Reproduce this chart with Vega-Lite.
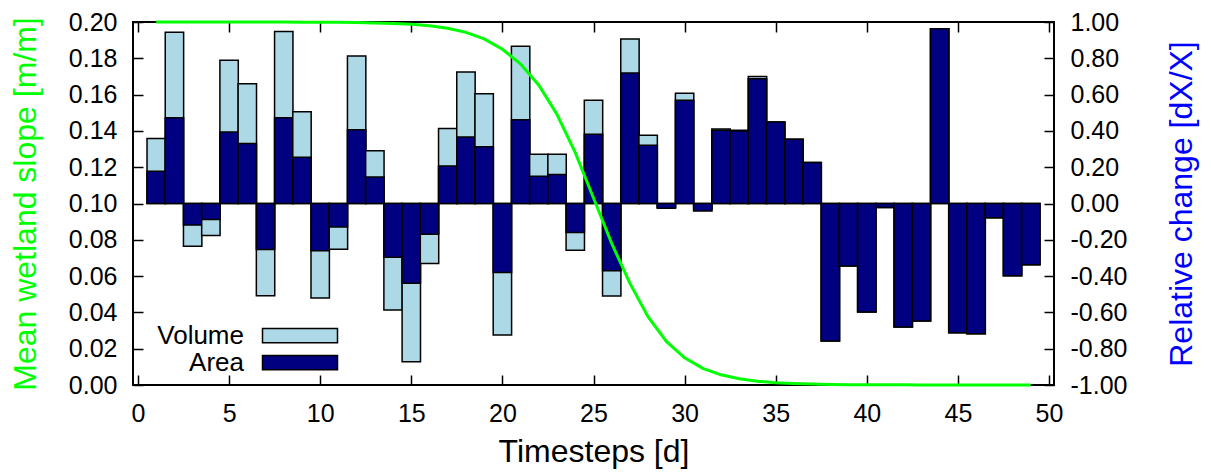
{
  "$schema": "https://vega.github.io/schema/vega-lite/v6.json",
  "width": 921,
  "height": 363,
  "autosize": {"type": "none"},
  "padding": {"left": 133, "top": 22, "right": 157, "bottom": 87},
  "background": "white",
  "config": {
    "view": {"stroke": "black", "strokeWidth": 2},
    "font": "Liberation Sans",
    "axis": {
      "labelFont": "Liberation Sans",
      "titleFont": "Liberation Sans",
      "labelFontSize": 25,
      "titleFontSize": 32,
      "titleFontWeight": "normal",
      "labelColor": "black",
      "tickColor": "black",
      "tickWidth": 1.5,
      "tickSize": -10,
      "domain": false,
      "grid": false,
      "labelOverlap": false
    }
  },
  "datasets": {
    "bars": [
      {"t": 1, "Volume": 0.358, "Area": 0.178},
      {"t": 2, "Volume": 0.944, "Area": 0.473},
      {"t": 3, "Volume": -0.235, "Area": -0.119},
      {"t": 4, "Volume": -0.176, "Area": -0.088},
      {"t": 5, "Volume": 0.789, "Area": 0.394},
      {"t": 6, "Volume": 0.660, "Area": 0.330},
      {"t": 7, "Volume": -0.508, "Area": -0.253},
      {"t": 8, "Volume": 0.948, "Area": 0.473},
      {"t": 9, "Volume": 0.506, "Area": 0.255},
      {"t": 10, "Volume": -0.521, "Area": -0.261},
      {"t": 11, "Volume": -0.252, "Area": -0.129},
      {"t": 12, "Volume": 0.812, "Area": 0.407},
      {"t": 13, "Volume": 0.290, "Area": 0.146},
      {"t": 14, "Volume": -0.587, "Area": -0.296},
      {"t": 15, "Volume": -0.872, "Area": -0.440},
      {"t": 16, "Volume": -0.330, "Area": -0.169},
      {"t": 17, "Volume": 0.413, "Area": 0.207},
      {"t": 18, "Volume": 0.724, "Area": 0.367},
      {"t": 19, "Volume": 0.605, "Area": 0.312},
      {"t": 20, "Volume": -0.725, "Area": -0.380},
      {"t": 21, "Volume": 0.866, "Area": 0.462},
      {"t": 22, "Volume": 0.271, "Area": 0.150},
      {"t": 23, "Volume": 0.271, "Area": 0.160},
      {"t": 24, "Volume": -0.257, "Area": -0.160},
      {"t": 25, "Volume": 0.569, "Area": 0.381},
      {"t": 26, "Volume": -0.510, "Area": -0.371},
      {"t": 27, "Volume": 0.906, "Area": 0.719},
      {"t": 28, "Volume": 0.376, "Area": 0.321},
      {"t": 29, "Volume": -0.020, "Area": -0.026},
      {"t": 30, "Volume": 0.607, "Area": 0.569},
      {"t": 31, "Volume": -0.030, "Area": -0.041},
      {"t": 32, "Volume": 0.410, "Area": 0.403},
      {"t": 33, "Volume": 0.403, "Area": 0.400},
      {"t": 34, "Volume": 0.700, "Area": 0.688},
      {"t": 35, "Volume": 0.449, "Area": 0.449},
      {"t": 36, "Volume": 0.354, "Area": 0.354},
      {"t": 37, "Volume": 0.226, "Area": 0.226},
      {"t": 38, "Volume": -0.758, "Area": -0.758},
      {"t": 39, "Volume": -0.345, "Area": -0.345},
      {"t": 40, "Volume": -0.598, "Area": -0.598},
      {"t": 41, "Volume": -0.022, "Area": -0.022},
      {"t": 42, "Volume": -0.681, "Area": -0.681},
      {"t": 43, "Volume": -0.648, "Area": -0.648},
      {"t": 44, "Volume": 0.963, "Area": 0.963},
      {"t": 45, "Volume": -0.712, "Area": -0.712},
      {"t": 46, "Volume": -0.718, "Area": -0.718},
      {"t": 47, "Volume": -0.079, "Area": -0.079},
      {"t": 48, "Volume": -0.398, "Area": -0.398},
      {"t": 49, "Volume": -0.338, "Area": -0.338}
    ],
    "slope": [
      {"t": 1, "slope": 0.2000}, {"t": 2, "slope": 0.2000}, {"t": 3, "slope": 0.2000},
      {"t": 4, "slope": 0.2000}, {"t": 5, "slope": 0.2000}, {"t": 6, "slope": 0.2000},
      {"t": 7, "slope": 0.2000}, {"t": 8, "slope": 0.2000}, {"t": 9, "slope": 0.1999},
      {"t": 10, "slope": 0.1999}, {"t": 11, "slope": 0.1998}, {"t": 12, "slope": 0.1997},
      {"t": 13, "slope": 0.1995}, {"t": 14, "slope": 0.1992}, {"t": 15, "slope": 0.1987},
      {"t": 16, "slope": 0.1979}, {"t": 17, "slope": 0.1965}, {"t": 18, "slope": 0.1943},
      {"t": 19, "slope": 0.1907}, {"t": 20, "slope": 0.1850}, {"t": 21, "slope": 0.1768},
      {"t": 22, "slope": 0.1652}, {"t": 23, "slope": 0.1490}, {"t": 24, "slope": 0.1280},
      {"t": 25, "slope": 0.1030}, {"t": 26, "slope": 0.0780}, {"t": 27, "slope": 0.0560},
      {"t": 28, "slope": 0.0375}, {"t": 29, "slope": 0.0240}, {"t": 30, "slope": 0.0150},
      {"t": 31, "slope": 0.0092}, {"t": 32, "slope": 0.0056}, {"t": 33, "slope": 0.0034},
      {"t": 34, "slope": 0.0021}, {"t": 35, "slope": 0.0013}, {"t": 36, "slope": 0.0008},
      {"t": 37, "slope": 0.0005}, {"t": 38, "slope": 0.0003}, {"t": 39, "slope": 0.0002},
      {"t": 40, "slope": 0.0001}, {"t": 41, "slope": 0.0001}, {"t": 42, "slope": 0.0001},
      {"t": 43, "slope": 0.0000}, {"t": 44, "slope": 0.0000}, {"t": 45, "slope": 0.0000},
      {"t": 46, "slope": 0.0000}, {"t": 47, "slope": 0.0000}, {"t": 48, "slope": 0.0000},
      {"t": 49, "slope": 0.0000}
    ]
  },
  "layer": [
    {
      "data": {"name": "bars"},
      "transform": [{"fold": ["Volume", "Area"], "as": ["series", "value"]}],
      "mark": {"type": "bar", "width": 18.4, "stroke": "black", "strokeWidth": 1.5},
      "encoding": {
        "x": {
          "field": "t",
          "type": "quantitative",
          "scale": {"domain": [0, 50], "nice": false, "zero": false},
          "axis": {
            "orient": "bottom",
            "values": [0, 5, 10, 15, 20, 25, 30, 35, 40, 45, 50],
            "title": "Timesteps [d]",
            "labelPadding": 26,
            "titlePadding": 10,
            "labelFlush": false
          }
        },
        "y": {
          "field": "value",
          "type": "quantitative",
          "stack": null,
          "scale": {"domain": [-1, 1], "nice": false, "zero": false},
          "axis": {
            "orient": "right",
            "values": [-1, -0.8, -0.6, -0.4, -0.2, 0, 0.2, 0.4, 0.6, 0.8, 1],
            "format": ".2f",
            "labelExpr": "replace(datum.label, '\u2212', '-')",
            "title": "Relative change [dX/X]",
            "titleColor": "#0000ff",
            "titleAngle": 270,
            "titleBaseline": "top",
            "titlePadding": 40,
            "labelPadding": 26
          }
        },
        "y2": {"datum": 0},
        "fill": {
          "field": "series",
          "type": "nominal",
          "scale": {"domain": ["Volume", "Area"], "range": ["#add8e6", "#000080"]},
          "legend": {
            "orient": "none",
            "legendX": 154,
            "legendY": 300.5,
            "title": null,
            "padding": 0,
            "symbolType": "M-5,-0.95H5V0.95H-5Z",
            "symbolSize": 225,
            "symbolStrokeColor": "black",
            "symbolStrokeWidth": 1.5,
            "symbolOpacity": 1,
            "labelFont": "Liberation Sans",
            "labelFontSize": 26,
            "labelColor": "black",
            "labelAlign": "right",
            "labelBaseline": "middle",
            "labelOffset": -69,
            "rowPadding": 1
          }
        }
      }
    },
    {
      "data": {"name": "slope"},
      "mark": {"type": "line", "color": "#00ff00", "strokeWidth": 3},
      "encoding": {
        "x": {
          "field": "t",
          "type": "quantitative",
          "axis": {
            "orient": "top",
            "values": [0, 5, 10, 15, 20, 25, 30, 35, 40, 45, 50],
            "labels": false,
            "title": null
          }
        },
        "y": {
          "field": "slope",
          "type": "quantitative",
          "scale": {"domain": [0, 0.2], "nice": false, "zero": false},
          "axis": {
            "orient": "left",
            "values": [0, 0.02, 0.04, 0.06, 0.08, 0.1, 0.12, 0.14, 0.16, 0.18, 0.2],
            "format": ".2f",
            "title": "Mean wetland slope [m/m]",
            "titleColor": "#00ff00",
            "labelPadding": 26,
            "titlePadding": 26
          }
        }
      }
    }
  ],
  "resolve": {"scale": {"y": "independent"}, "axis": {"x": "independent"}}
}
